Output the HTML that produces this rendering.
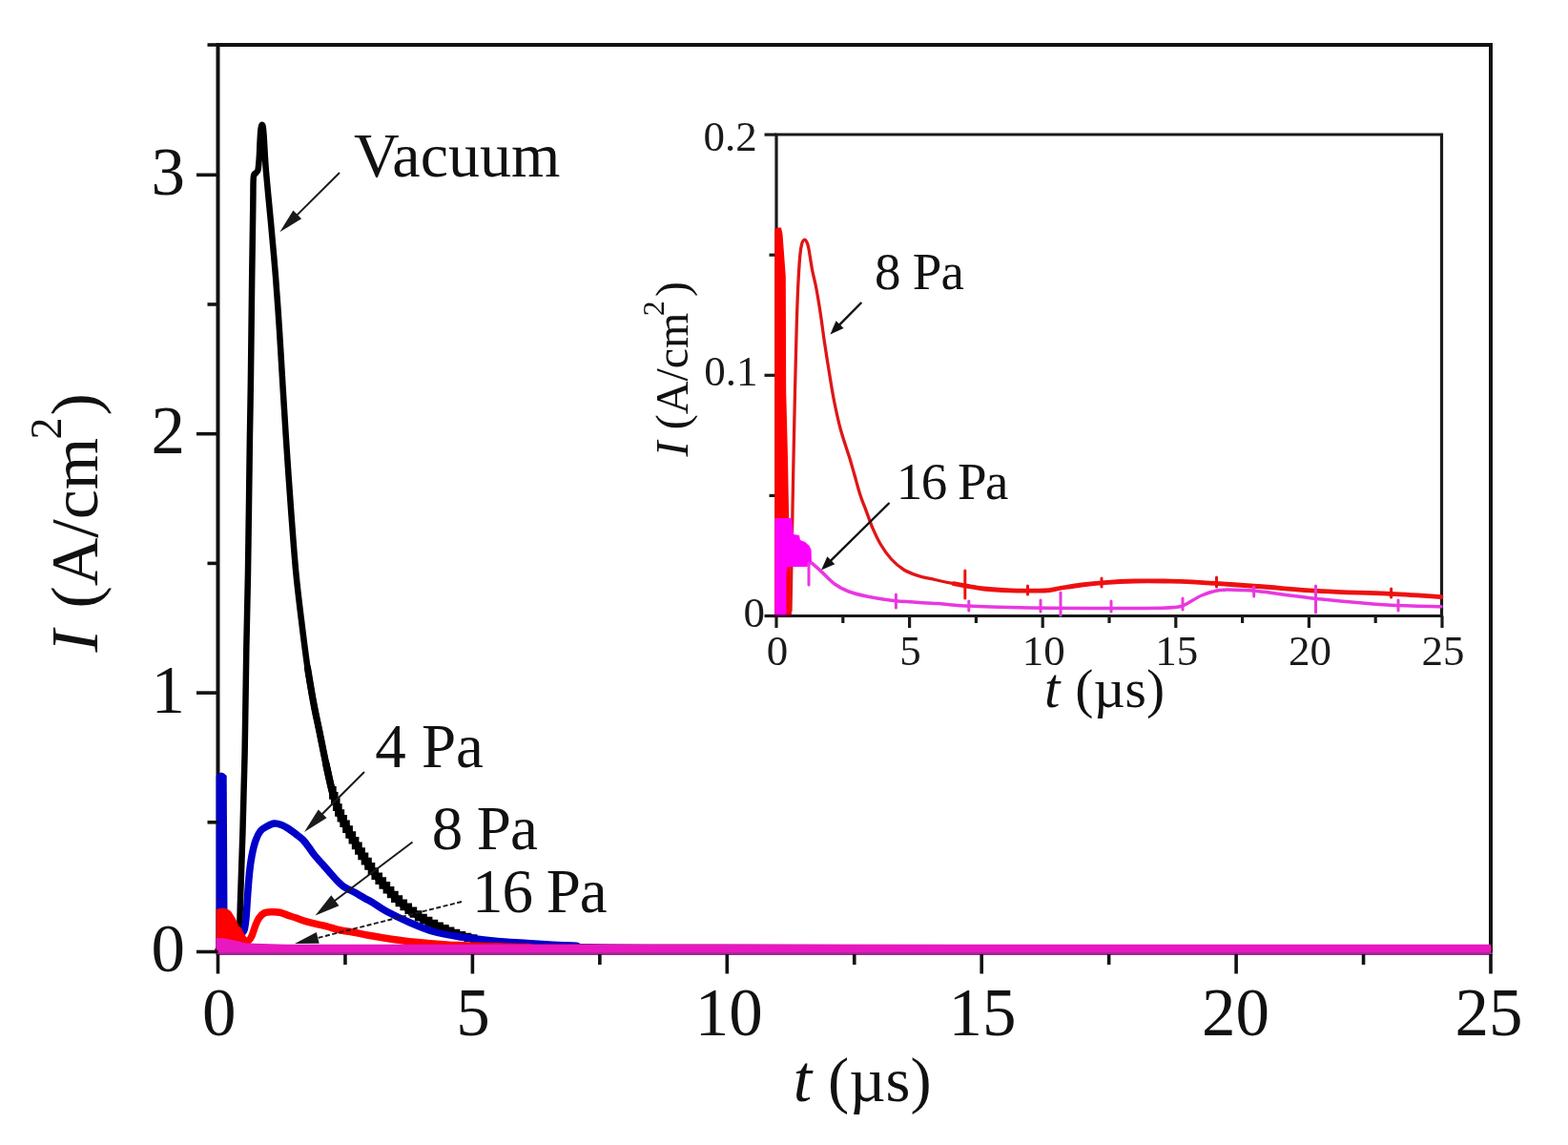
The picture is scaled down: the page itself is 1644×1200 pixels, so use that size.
<!DOCTYPE html>
<html><head><meta charset="utf-8"><title>I vs t</title>
<style>html,body{margin:0;padding:0;background:#fff;overflow:hidden;}svg{display:block;}</style>
</head><body>
<svg width="1644" height="1200" viewBox="0 0 1644 1200" font-family="Liberation Serif, Times New Roman, serif">
<rect width="1644" height="1200" fill="#fff"/>
<g stroke="#111" stroke-width="4" fill="none">
<path d="M228.5 999.5 L228.5 47 L1563 47 L1563 999.5"/>
</g>
<g fill="none" stroke-linejoin="round" stroke-linecap="round">
<path d="M228.5 996 C231.25 996 241.37 996.08 245 996 C248.63 995.92 249.27 999 250.3 995.5 C251.33 992 250.95 982.58 251.2 975 C251.45 967.42 251.5 960 251.8 950 C252.1 940 252.55 928.33 253 915 C253.45 901.67 253.9 890.83 254.5 870 C255.1 849.17 255.97 821.67 256.6 790 C257.23 758.33 257.73 711.67 258.3 680 C258.87 648.33 259.4 636.67 260 600 C260.6 563.33 261.42 493.33 261.9 460 C262.38 426.67 262.52 428.33 262.9 400 C263.28 371.67 263.8 320.83 264.2 290 C264.6 259.17 265.03 232.33 265.3 215 C265.57 197.67 265.35 191.58 265.8 186 C266.25 180.42 267.22 182.83 268 181.5 C268.78 180.17 269.87 180.75 270.5 178 C271.13 175.25 271.45 170 271.8 165 C272.15 160 272.33 152.83 272.6 148 C272.87 143.17 273.07 138.83 273.4 136 C273.73 133.17 274.2 131.42 274.6 131 C275 130.58 275.43 131.17 275.8 133.5 C276.17 135.83 276.47 140.08 276.8 145 C277.13 149.92 277.43 157.17 277.8 163 C278.17 168.83 278.42 173 279 180 C279.58 187 280.47 196.12 281.3 205 C282.13 213.88 282.72 219.13 284 233.3 C285.28 247.47 287.5 271.12 289 290 C290.5 308.88 291.77 327.72 293 346.6 C294.23 365.48 295.13 382.73 296.4 403.3 C297.67 423.87 299.08 447.22 300.6 470 C302.12 492.78 303.88 518.33 305.5 540 C307.12 561.67 308.55 581.67 310.3 600 C312.05 618.33 313.97 633.33 316 650 C318.03 666.67 320.37 685.5 322.5 700 C324.63 714.5 326.72 725.83 328.8 737 C330.88 748.17 332.85 756.5 335 767 C337.15 777.5 339.45 789.5 341.7 800 C343.95 810.5 346.28 821.67 348.5 830 C350.72 838.33 352.53 843.83 355 850 C357.47 856.17 360.52 861.67 363.3 867 C366.08 872.33 368.92 877.12 371.7 882 C374.48 886.88 376.53 890.8 380 896.3 C383.47 901.8 388.33 909.38 392.5 915 C396.67 920.62 400.83 925.2 405 930 C409.17 934.8 413.33 939.83 417.5 943.8 C421.67 947.77 425.83 950.68 430 953.8 C434.17 956.92 437.28 959.5 442.5 962.5 C447.72 965.5 455.05 968.97 461.3 971.8 C467.55 974.63 474.08 977.47 480 979.5 C485.92 981.53 485.97 982.33 496.8 984 C507.63 985.67 527.8 988.17 545 989.5 C562.2 990.83 574.17 991.33 600 992 C625.83 992.67 540 993 700 993.5 C860 994 1416.67 994.75 1560 995" stroke="#000" stroke-width="6.5"/>
<path d="M322.5 700 C323.55 706.17 326.72 725.83 328.8 737 C330.88 748.17 332.85 756.5 335 767 C337.15 777.5 339.45 789.5 341.7 800 C343.95 810.5 346.28 821.67 348.5 830 C350.72 838.33 352.53 843.83 355 850 C357.47 856.17 360.52 861.67 363.3 867 C366.08 872.33 368.92 877.12 371.7 882 C374.48 886.88 376.53 890.8 380 896.3 C383.47 901.8 388.33 909.38 392.5 915 C396.67 920.62 400.83 925.2 405 930 C409.17 934.8 413.33 939.83 417.5 943.8 C421.67 947.77 425.83 950.68 430 953.8 C434.17 956.92 437.28 959.5 442.5 962.5 C447.72 965.5 455.05 968.97 461.3 971.8 C467.55 974.63 474.08 977.47 480 979.5 C485.92 981.53 494 983.25 496.8 984" stroke="#000" stroke-width="7.2"/>
<path d="M341.7 800 C342.83 805 346.28 821.67 348.5 830 C350.72 838.33 352.53 843.83 355 850 C357.47 856.17 360.52 861.67 363.3 867 C366.08 872.33 368.92 877.12 371.7 882 C374.48 886.88 376.53 890.8 380 896.3 C383.47 901.8 388.33 909.38 392.5 915 C396.67 920.62 400.83 925.2 405 930 C409.17 934.8 413.33 939.83 417.5 943.8 C421.67 947.77 425.83 950.68 430 953.8 C434.17 956.92 437.28 959.5 442.5 962.5 C447.72 965.5 455.05 968.97 461.3 971.8 C467.55 974.63 474.08 977.47 480 979.5 C485.92 981.53 494 983.25 496.8 984" stroke="#000" stroke-width="7.6"/>
<path d="M348 827.79 H348.88 V833.85 H349.75 H350.75 V840 H351.75 H352.75 V846.15 H353.75 H354.88 V852.05 H356 H357.38 V857.68 H358.75 H360.12 V863.31 H361.5 H363 V869.14 H364.5 H366.12 V874.95 H367.75 H369.38 V880.75 H371 H372.62 V886.39 H374.25 H375.88 V891.99 H377.5 H379.12 V897.42 H380.75 H382.5 V902.66 H384.25 H386 V907.89 H387.75 H389.5 V913.13 H391.25 H393.25 V918.3 H395.25 H397.25 V923.1 H399.25 H401.25 V927.9 H403.25 H405.38 V932.76 H407.5 H409.62 V937.45 H411.75 H413.88 V942.14 H416 H418.38 V946.4 H420.75 H423.25 V950.4 H425.75 H428.25 V954.32 H430.75 H433.38 V957.98 H436 H438.62 V961.63 H441.25 H444 V964.6 H446.75 H449.62 V967.45 H452.5 H455.38 V970.29 H458.25 H461.12 V972.91 H464 H466.88 V975.28 H469.75 H472.62 V977.65 H475.5 H478.5 V979.9 H481.5 H484.5 V981.51 H487.5 H490.5 V983.12 H493.5 H496.62 V984.34 H499.75" stroke="#000" stroke-width="7.6" stroke-linejoin="miter" stroke-linecap="butt"/>
<path d="M226.7 994 L226.7 813 Q232 806 237.7 813 L238.5 960 L246 968 L253 975 L253 994 Z" fill="#0000c8" stroke="none"/>
<path d="M253 978 C253.5 977.5 255.17 977.67 256 975 C256.83 972.33 257.42 967.83 258 962 C258.58 956.17 258.92 947.83 259.5 940 C260.08 932.17 260.75 922.17 261.5 915 C262.25 907.83 262.92 902.67 264 897 C265.08 891.33 266.5 885.33 268 881 C269.5 876.67 271 873.5 273 871 C275 868.5 277.58 867.33 280 866 C282.42 864.67 285 863.25 287.5 863 C290 862.75 292.5 863.58 295 864.5 C297.5 865.42 300 866.92 302.5 868.5 C305 870.08 307.5 872.08 310 874 C312.5 875.92 315.25 877.75 317.5 880 C319.75 882.25 321.42 884.75 323.5 887.5 C325.58 890.25 327.67 893.58 330 896.5 C332.33 899.42 335 902.17 337.5 905 C340 907.83 342.5 910.67 345 913.5 C347.5 916.33 350 919.42 352.5 922 C355 924.58 357.5 927.17 360 929 C362.5 930.83 365 931.67 367.5 933 C370 934.33 372.5 935.58 375 937 C377.5 938.42 380 940.08 382.5 941.5 C385 942.92 386.25 943.25 390 945.5 C393.75 947.75 398.33 951.42 405 955 C411.67 958.58 421.67 963.42 430 967 C438.33 970.58 446.67 974.08 455 976.5 C463.33 978.92 468.88 979.83 480 981.5 C491.12 983.17 510.87 985.42 521.7 986.5 C532.53 987.58 531.95 987.25 545 988 C558.05 988.75 574.17 990.08 600 991 C625.83 991.92 540 992.92 700 993.5 C860 994.08 1416.67 994.33 1560 994.5" stroke="#0000c8" stroke-width="7.5"/>
<path d="M226.7 996 L226.7 953 Q236 949.5 242 955 L247 963 L251 972 L253 985 L253 996 Z" fill="#f00" stroke="none"/>
<path d="M250 975 C250.5 976 251.83 979.17 253 981 C254.17 982.83 255.75 985.17 257 986 C258.25 986.83 259.33 986.83 260.5 986 C261.67 985.17 262.82 983.57 264 981 C265.18 978.43 266.37 973.7 267.6 970.6 C268.83 967.5 269.85 964.67 271.4 962.4 C272.95 960.13 274.62 958.1 276.9 957 C279.18 955.9 282.37 955.92 285.1 955.8 C287.83 955.68 290.57 955.75 293.3 956.3 C296.03 956.85 298.77 958.18 301.5 959.1 C304.23 960.02 306.5 960.7 309.7 961.8 C312.9 962.9 317.05 964.6 320.7 965.7 C324.35 966.8 327.95 967.55 331.6 968.4 C335.25 969.25 338.7 969.78 342.6 970.8 C346.5 971.82 350.43 973.47 355 974.5 C359.57 975.53 365 976.08 370 977 C375 977.92 379.58 979 385 980 C390.42 981 396.67 982.08 402.5 983 C408.33 983.92 414.58 984.78 420 985.5 C425.42 986.22 427.08 986.55 435 987.3 C442.92 988.05 460 989.45 467.5 990 C475 990.55 466.25 990.18 480 990.6 C493.75 991.02 521.67 992.02 550 992.5 C578.33 992.98 481.67 993.25 650 993.5 C818.33 993.75 1408.33 993.92 1560 994" stroke="#f00" stroke-width="7.5"/>
<path d="M226.7 1000 L226.7 983 L236 983.5 L248 986 L258 988.5 L300 989.8 L1563 989.8 L1563 1000 Z" fill="#e818c0" stroke="none"/>
</g>
<line x1="226.5" y1="999.6" x2="1565" y2="999.6" stroke="#a02890" stroke-width="2.6"/>
<g stroke="#111" stroke-width="3.6">
<line x1="206" y1="997.5" x2="228.5" y2="997.5"/>
<line x1="217.5" y1="861.8" x2="228.5" y2="861.8"/>
<line x1="206" y1="726.1" x2="228.5" y2="726.1"/>
<line x1="217.5" y1="590.4" x2="228.5" y2="590.4"/>
<line x1="206" y1="454.7" x2="228.5" y2="454.7"/>
<line x1="217.5" y1="319" x2="228.5" y2="319"/>
<line x1="206" y1="183.3" x2="228.5" y2="183.3"/>
<line x1="217.5" y1="47" x2="228.5" y2="47"/>
<line x1="228.5" y1="1000" x2="228.5" y2="1020.5"/>
<line x1="361.95" y1="1000" x2="361.95" y2="1011"/>
<line x1="495.4" y1="1000" x2="495.4" y2="1020.5"/>
<line x1="628.85" y1="1000" x2="628.85" y2="1011"/>
<line x1="762.3" y1="1000" x2="762.3" y2="1020.5"/>
<line x1="895.75" y1="1000" x2="895.75" y2="1011"/>
<line x1="1029.2" y1="1000" x2="1029.2" y2="1020.5"/>
<line x1="1162.65" y1="1000" x2="1162.65" y2="1011"/>
<line x1="1296.1" y1="1000" x2="1296.1" y2="1020.5"/>
<line x1="1429.55" y1="1000" x2="1429.55" y2="1011"/>
<line x1="1563" y1="1000" x2="1563" y2="1020.5"/>
</g>
<g font-size="71" fill="#111" text-anchor="end">
<text x="194" y="1018">0</text>
<text x="194" y="746.6">1</text>
<text x="194" y="475.2">2</text>
<text x="194" y="203.8">3</text>
</g>
<g font-size="71" fill="#111" text-anchor="middle">
<text x="229.8" y="1085">0</text>
<text x="495.9" y="1085">5</text>
<text x="764.3" y="1085">10</text>
<text x="1030.1" y="1085">15</text>
<text x="1295.5" y="1085">20</text>
<text x="1561" y="1085">25</text>
</g>
<g fill="#111">
<text x="831.7" y="1154" font-size="70" font-style="italic">t</text>
<text x="868.1" y="1153.5" font-size="66.5">(µs)</text>
<g transform="translate(101.5 683.4) rotate(-90)">
<text x="0" y="0" font-size="70" font-style="italic">I</text>
<text x="45.9" y="0" font-size="70">(A/cm</text>
<text x="222.9" y="-38" font-size="46">2</text>
<text x="247.9" y="0" font-size="70">)</text>
</g>
<text x="371" y="185" font-size="66">Vacuum</text>
<text x="393.2" y="803.5" font-size="65">4 Pa</text>
<text x="452.8" y="889.5" font-size="65" textLength="111" lengthAdjust="spacing">8 Pa</text>
<text x="495.05" y="955.5" font-size="65" textLength="141.6" lengthAdjust="spacing">16 Pa</text>
</g>
<line x1="356" y1="181" x2="309.62" y2="227.09" stroke="#1a1a1a" stroke-width="2"/><path d="M293.3 243.3 L307.37 220.58 L316.11 229.37 Z" fill="#1a1a1a"/>
<line x1="382" y1="809" x2="335.98" y2="854.94" stroke="#1a1a1a" stroke-width="2"/><path d="M319 871.9 L333.73 848.44 L342.49 857.21 Z" fill="#1a1a1a"/>
<line x1="432.5" y1="882.5" x2="348.96" y2="945.55" stroke="#1a1a1a" stroke-width="2"/><path d="M330.6 959.4 L347.26 938.31 L355.45 949.17 Z" fill="#1a1a1a"/>
<line x1="484" y1="945" x2="330.34" y2="983.64" stroke="#1a1a1a" stroke-width="1.9" stroke-dasharray="5 2.5"/><path d="M309 989 L331.78 977.09 L334.71 988.72 Z" fill="#1a1a1a"/>
<g stroke="#1a1a1a" stroke-width="3.2" fill="none">
<path d="M814 645.5 L814 141 L1511.5 141 L1511.5 645.5 Z"/>
<line x1="801.5" y1="645.5" x2="814" y2="645.5"/>
<line x1="806.5" y1="519.4" x2="814" y2="519.4"/>
<line x1="801.5" y1="393.3" x2="814" y2="393.3"/>
<line x1="806.5" y1="267.2" x2="814" y2="267.2"/>
<line x1="801.5" y1="141.1" x2="814" y2="141.1"/>
<line x1="814" y1="645.5" x2="814" y2="658"/>
<line x1="883.8" y1="645.5" x2="883.8" y2="653"/>
<line x1="953.6" y1="645.5" x2="953.6" y2="658"/>
<line x1="1023.4" y1="645.5" x2="1023.4" y2="653"/>
<line x1="1093.2" y1="645.5" x2="1093.2" y2="658"/>
<line x1="1163" y1="645.5" x2="1163" y2="653"/>
<line x1="1232.8" y1="645.5" x2="1232.8" y2="658"/>
<line x1="1302.6" y1="645.5" x2="1302.6" y2="653"/>
<line x1="1372.4" y1="645.5" x2="1372.4" y2="658"/>
<line x1="1442.2" y1="645.5" x2="1442.2" y2="653"/>
<line x1="1512" y1="645.5" x2="1512" y2="658"/>
</g>
<g fill="none" stroke-linejoin="round" stroke-linecap="round">
<path d="M812.3 645 L812.3 241 Q813 238.5 816 238.5 L819 238.5 L820.5 245 L823.8 290 L824.2 410 L826 480 L827.5 560 L830 645 Z" fill="#f00"/>
<path d="M829 640 C829.25 626.67 830 586.67 830.5 560 C831 533.33 831.5 505 832 480 C832.5 455 833 431.67 833.5 410 C834 388.33 834.5 367.5 835 350 C835.5 332.5 835.87 318.75 836.5 305 C837.13 291.25 838.05 275.92 838.8 267.5 C839.55 259.08 840.25 257.2 841 254.5 C841.75 251.8 842.55 251.55 843.3 251.3 C844.05 251.05 844.75 251.55 845.5 253 C846.25 254.45 846.8 255.08 847.8 260 C848.8 264.92 850.17 275.5 851.5 282.5 C852.83 289.5 854.33 294.25 855.8 302 C857.27 309.75 858.9 319.83 860.3 329 C861.7 338.17 862.72 347 864.2 357 C865.68 367 867.48 378.5 869.2 389 C870.92 399.5 872.48 409.83 874.5 420 C876.52 430.17 878.63 440.17 881.3 450 C883.97 459.83 888.08 471.12 890.5 479 C892.92 486.88 893.88 490.63 895.8 497.3 C897.72 503.97 899.88 512.5 902 519 C904.12 525.5 906.33 530.53 908.5 536.3 C910.67 542.07 912.48 547.82 915 553.6 C917.52 559.38 920.35 565.6 923.6 571 C926.85 576.4 930.52 581.67 934.5 586 C938.48 590.33 942.82 594.1 947.5 597 C952.18 599.9 957.18 601.65 962.6 603.4 C968.02 605.15 973.77 606.12 980 607.5 C986.23 608.88 991.4 610.12 1000 611.7 C1008.6 613.28 1026.33 616.12 1031.6 617" stroke="#e01515" stroke-width="3.3"/>
<path d="M1000 611.7 C1005.27 612.58 1021.6 615.82 1031.6 617 C1041.6 618.18 1049.43 618.47 1060 618.8 C1070.57 619.13 1086.5 619.38 1095 619 C1103.5 618.62 1104.5 617.5 1111 616.5 C1117.5 615.5 1126.17 613.98 1134 613 C1141.83 612.02 1148.67 611.27 1158 610.6 C1167.33 609.93 1179.5 609.27 1190 609 C1200.5 608.73 1211 608.87 1221 609 C1231 609.13 1233.83 608.88 1250 609.8 C1266.17 610.72 1295.33 612.87 1318 614.5 C1340.67 616.13 1363.33 618.32 1386 619.6 C1408.67 620.88 1433.17 621.2 1454 622.2 C1474.83 623.2 1501.5 625.03 1511 625.6" stroke="#ee1010" stroke-width="4.8"/>
<path d="M812.5 645 L812.5 543 L830 543 L832 560 L838 561 L839 566 L844 568 L848.5 572 L850.5 576 L851 591 L846 594 L840 594 L826 594 L824.5 600 L824.5 645 Z" fill="#f0f"/>
<path d="M851 590 C852.72 591.52 857.3 595.43 861.3 599.1 C865.3 602.77 870.22 608.52 875 612 C879.78 615.48 884.17 617.8 890 620 C895.83 622.2 901.77 623.57 910 625.2 C918.23 626.83 927.17 628.57 939.4 629.8 C951.63 631.03 969.97 631.68 983.4 632.6 C996.83 633.52 1000.57 634.52 1020 635.3 C1039.43 636.08 1070 636.93 1100 637.3 C1130 637.67 1178 637.63 1200 637.5 C1222 637.37 1225 637.08 1232 636.5 C1239 635.92 1237.33 636.08 1242 634 C1246.67 631.92 1253.83 626.58 1260 624 C1266.17 621.42 1272.33 619.42 1279 618.5 C1285.67 617.58 1293.5 618.32 1300 618.5 C1306.5 618.68 1303.67 618.02 1318 619.6 C1332.33 621.18 1363.27 625.6 1386 628 C1408.73 630.4 1433.57 632.7 1454.4 634 C1475.23 635.3 1501.57 635.5 1511 635.8" stroke="#e838e0" stroke-width="3.5"/>
<line x1="1011.8" y1="598" x2="1011.8" y2="627" stroke="#ee1010" stroke-width="3"/>
<line x1="1112" y1="621" x2="1112" y2="645" stroke="#e838e0" stroke-width="3"/>
<line x1="1379.5" y1="614" x2="1379.5" y2="642" stroke="#e838e0" stroke-width="3"/>
<line x1="939.4" y1="623" x2="939.4" y2="637" stroke="#e838e0" stroke-width="3"/>
<line x1="1015.8" y1="630" x2="1015.8" y2="640" stroke="#e838e0" stroke-width="3"/>
<line x1="1091" y1="629" x2="1091" y2="641" stroke="#e838e0" stroke-width="3"/>
<line x1="1165" y1="630" x2="1165" y2="641" stroke="#e838e0" stroke-width="3"/>
<line x1="1240" y1="627" x2="1240" y2="639" stroke="#e838e0" stroke-width="3"/>
<line x1="1466" y1="629" x2="1466" y2="640" stroke="#e838e0" stroke-width="3"/>
<line x1="1314.7" y1="615" x2="1314.7" y2="625" stroke="#e838e0" stroke-width="3"/>
<line x1="1077.5" y1="614" x2="1077.5" y2="623" stroke="#ee1010" stroke-width="3"/>
<line x1="1155" y1="606" x2="1155" y2="615" stroke="#ee1010" stroke-width="3"/>
<line x1="1275.5" y1="605" x2="1275.5" y2="615" stroke="#ee1010" stroke-width="3"/>
<line x1="1458.6" y1="617" x2="1458.6" y2="626" stroke="#ee1010" stroke-width="3"/>
<line x1="848" y1="590" x2="848" y2="613" stroke="#e838e0" stroke-width="3"/>
</g>
<line x1="810" y1="645.5" x2="832" y2="645.5" stroke="#400030" stroke-width="3.2" opacity="0.75"/>
<g font-size="45" fill="#1a1a1a">
<text x="793.7" y="158" text-anchor="end">0.2</text>
<text x="794.5" y="404" text-anchor="end">0.1</text>
<text x="802" y="657" text-anchor="end">0</text>
<text x="815" y="697" text-anchor="middle">0</text>
<text x="954.6" y="697" text-anchor="middle">5</text>
<text x="1094.2" y="697" text-anchor="middle">10</text>
<text x="1233.8" y="697" text-anchor="middle">15</text>
<text x="1373.4" y="697" text-anchor="middle">20</text>
<text x="1513" y="697" text-anchor="middle">25</text>
</g>
<g fill="#111">
<text x="1095.1" y="741" font-size="59" font-style="italic">t</text>
<text x="1127.3" y="741" font-size="57.5">(µs)</text>
<g transform="translate(721 478.5) rotate(-90)">
<text x="0" y="0" font-size="48" font-style="italic">I</text>
<text x="28.3" y="0" font-size="48">(A/cm</text>
<text x="147.3" y="-25" font-size="32">2</text>
<text x="167.4" y="0" font-size="48">)</text>
</g>
<text x="917" y="303" font-size="55" textLength="94" lengthAdjust="spacing">8 Pa</text>
<text x="939.85" y="522.5" font-size="55" textLength="117.5" lengthAdjust="spacing">16 Pa</text>
</g>
<line x1="903.3" y1="317" x2="878.47" y2="342.21" stroke="#111" stroke-width="2.4"/><path d="M870.4 350.4 L876.59 336.14 L884.56 344 Z" fill="#111"/>
<line x1="932.5" y1="527" x2="869.19" y2="589.43" stroke="#111" stroke-width="2.4"/><path d="M861 597.5 L867.39 583.33 L875.26 591.31 Z" fill="#111"/>
</svg>
</body></html>
